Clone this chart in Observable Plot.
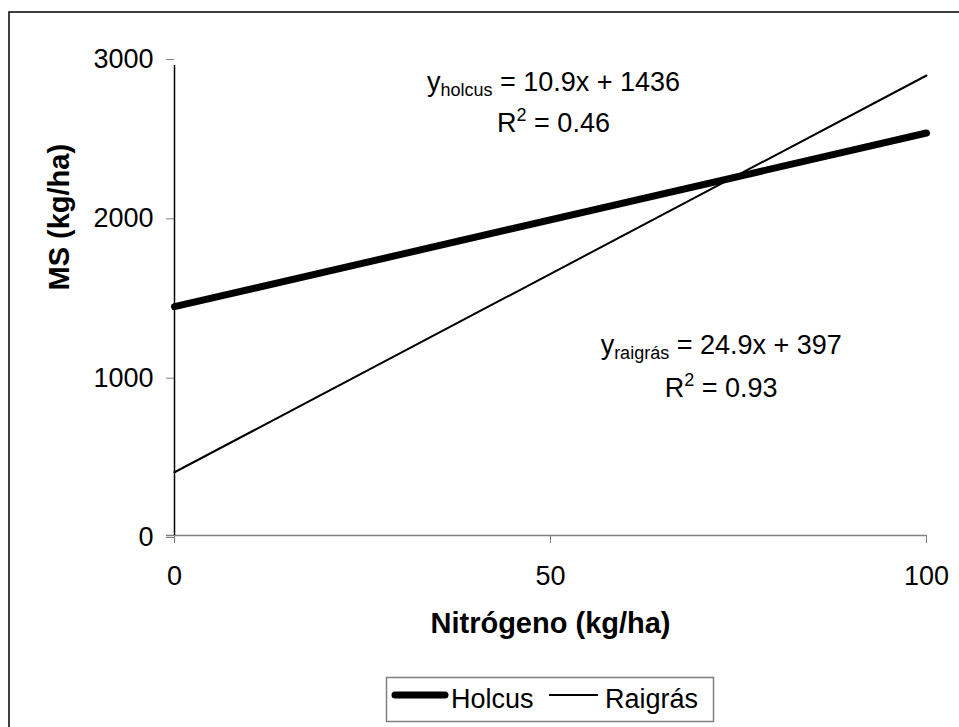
<!DOCTYPE html>
<html>
<head>
<meta charset="utf-8">
<script src="https://cdn.jsdelivr.net/npm/d3@7"></script>
<script src="https://cdn.jsdelivr.net/npm/@observablehq/plot@0.6"></script>
<style>
  html, body { margin: 0; padding: 0; background: white; }
  svg { display: block; }
</style>
</head>
<body>
<div id="chart"></div>
<script>
// ---- data ----
const xEnds = [0, 100];                 // Nitrógeno (kg/ha) at line ends
const holcusY = [1436, 2526];           // MS (kg/ha), Holcus trend line ends
const raigrasY = [397, 2887];           // MS (kg/ha), Raigrás trend line ends
const seriesNames = ["Holcus", "Raigrás"];
const eqSubscripts = ["holcus", "raigrás"];
const eqSlopes = ["10.9", "24.9"];
const eqIntercepts = ["1436", "397"];
const eqR2 = ["0.46", "0.93"];
const xTicks = [0, 50, 100];
const yTicks = [0, 1000, 2000, 3000];
const xTitle = "Nitrógeno (kg/ha)";
const yTitle = "MS (kg/ha)";

const holcus = xEnds.map((x, i) => ({x, y: holcusY[i]}));
const raigras = xEnds.map((x, i) => ({x, y: raigrasY[i]}));
const eqIdx = [0, 1];

const FONT = "'Liberation Sans', Arial, sans-serif";

const chart = Plot.plot({
  width: 959,
  height: 727,
  marginLeft: 174,
  marginRight: 33,
  marginTop: 57,
  marginBottom: 192,
  style: {fontFamily: FONT, fontSize: "27px", background: "white", color: "black", overflow: "visible"},
  x: {domain: [0, 100]},
  y: {domain: [0, 3000]},
  marks: [
    Plot.axisY({ticks: yTicks, tickSize: 8, tickPadding: 13, stroke: "#808080", fontSize: 27, label: null, tickFormat: d => String(d), dy: 2}),
    Plot.axisX({ticks: xTicks, tickSize: 8, tickPadding: 22, stroke: "#808080", fontSize: 27, label: null, tickFormat: d => String(d)}),
    Plot.ruleY([0], {x1: 0, x2: 100, stroke: "#808080", strokeWidth: 1.5, insetLeft: -8}),
    Plot.ruleX([0], {y1: 0, y2: 3000, stroke: "black", strokeWidth: 1.5, insetBottom: -8}),
    Plot.line(raigras, {x: "x", y: "y", stroke: "black", strokeWidth: 2}),
    Plot.line(holcus, {x: "x", y: "y", stroke: "black", strokeWidth: 7, strokeLinecap: "round"}),
    Plot.text([xTitle], {frameAnchor: "bottom", dy: 97, fontWeight: "bold", fontSize: 29, fill: "black"}),
    Plot.text([yTitle], {frameAnchor: "left", rotate: -90, dx: -115, dy: -6, fontWeight: "bold", fontSize: 29, fill: "black"}),
    Plot.text(eqIdx, {x: [50.4, 72.7], y: [2843, 1192], text: i => eqSubscripts[i], className: "eq1", fill: "black", fontSize: 27, textAnchor: "middle"}),
    Plot.text(eqIdx, {x: [50.4, 72.7], y: [2586, 922], text: i => eqR2[i], className: "eq2", fill: "black", fontSize: 27, textAnchor: "middle"})
  ]
});

const svg = d3.select(chart);

// rich text for regression equations (subscripts / superscripts)
svg.selectAll("g.eq1 text").each(function(i) {
  const t = d3.select(this);
  t.attr("dy", null).text(null);
  t.append("tspan").text("y");
  t.append("tspan").attr("font-size", 18).attr("dy", 5).text(eqSubscripts[i]);
  t.append("tspan").attr("dy", -5).text(" = " + eqSlopes[i] + "x + " + eqIntercepts[i]);
});
svg.selectAll("g.eq2 text").each(function(i) {
  const t = d3.select(this);
  t.attr("dy", null).text(null);
  t.append("tspan").text("R");
  t.append("tspan").attr("font-size", 18).attr("dy", -11).text("2");
  t.append("tspan").attr("dy", 11).text(" = " + eqR2[i]);
});

// outer chart-area frame
svg.insert("rect", ":first-child")
  .attr("x", 9).attr("y", 12).attr("width", 1000).attr("height", 1000)
  .attr("fill", "white").attr("stroke", "black").attr("stroke-width", 1.5);

// legend
const lg = svg.append("g").attr("font-family", FONT).attr("font-size", 27).attr("text-anchor", "start");
lg.append("rect").attr("x", 386.5).attr("y", 677.5).attr("width", 327).attr("height", 44)
  .attr("fill", "white").attr("stroke", "#808080").attr("stroke-width", 1.5);
const legendItems = [
  {name: seriesNames[0], x1: 395, x2: 445, w: 7, cap: "round", tx: 451},
  {name: seriesNames[1], x1: 549, x2: 598, w: 2, cap: "butt", tx: 605}
];
legendItems.forEach(d => {
  lg.append("line").attr("x1", d.x1).attr("x2", d.x2).attr("y1", 695).attr("y2", 695)
    .attr("stroke", "black").attr("stroke-width", d.w).attr("stroke-linecap", d.cap);
  lg.append("text").attr("x", d.tx).attr("y", 708).attr("fill", "black").text(d.name);
});

document.getElementById("chart").appendChild(chart);
</script>
</body>
</html>
